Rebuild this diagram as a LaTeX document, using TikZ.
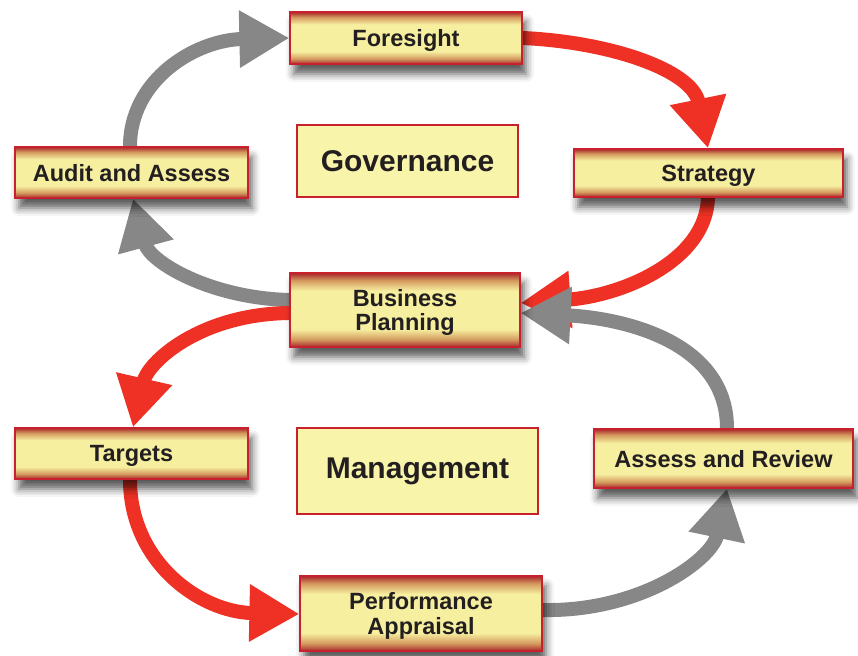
\documentclass[tikz,border=0pt]{standalone}
\usepackage{fontspec}
\setmainfont{Liberation Sans}
\usetikzlibrary{arrows.meta,shadows.blur}

\definecolor{boxedge}{HTML}{A8262A}
\definecolor{boxtan}{HTML}{D49A5E}
\definecolor{boxpale}{HTML}{F6EFA0}
\definecolor{plainfill}{HTML}{F8F4A9}
\definecolor{framered}{HTML}{C8202C}
\definecolor{flowred}{HTML}{EE3124}
\definecolor{flowgrey}{HTML}{878787}
\definecolor{inkdark}{HTML}{231F20}

\pgfdeclareverticalshading{boxshade}{100bp}{%
  color(0bp)=(boxedge); color(25bp)=(boxedge); color(30bp)=(boxtan);
  color(37bp)=(boxpale); color(63bp)=(boxpale); color(70bp)=(boxtan);
  color(75bp)=(boxedge); color(100bp)=(boxedge)}

\pgfdeclarelayer{arrows}
\pgfsetlayers{arrows,main}

\tikzset{
  stagebox/.style={draw=framered, line width=1.2pt, shading=boxshade,
    inner sep=0pt, align=center, text=inkdark,
    font=\fontsize{23.5}{24.5}\selectfont\bfseries,
    text depth=0pt,
    blur shadow={shadow xshift=4pt, shadow yshift=-10pt,
      shadow blur radius=8pt, shadow opacity=65}},
  areabox/.style={draw=framered, line width=1.2pt, fill=plainfill,
    inner sep=0pt, text=inkdark, font=\fontsize{30}{32}\selectfont\bfseries},
  flow/.style={line width=14pt,
    -{Triangle[length=50pt, width=54pt]}},
  redflow/.style={flow, draw=flowred},
  greyflow/.style={flow, draw=flowgrey},
}

\begin{document}
\begin{tikzpicture}[x=1pt, y=-1pt]
\useasboundingbox (0,0) rectangle (858,655);

% stage boxes
\node[stagebox, minimum width=232pt, minimum height=52pt] (fore) at (406,38) {Foresight};
\node[stagebox, minimum width=269pt, minimum height=48pt] (strat) at (708.5,173) {Strategy};
\node[stagebox, minimum width=233pt, minimum height=51pt] (audit) at (131.5,172.5) {Audit and Assess};
\node[stagebox, minimum width=230pt, minimum height=74pt] (plan) at (405,310) {Business\\Planning};
\node[stagebox, minimum width=233pt, minimum height=51pt] (targ) at (131.5,453.5) {Targets};
\node[stagebox, minimum width=259pt, minimum height=59pt] (review) at (723.5,458.5) {Assess and Review};
\node[stagebox, minimum width=242pt, minimum height=75pt] (perf) at (421,613.5) {Performance\\Appraisal};

% area labels
\node[areabox, minimum width=221pt, minimum height=72pt] (gov) at (407.5,161) {Governance};
\node[areabox, minimum width=241pt, minimum height=86pt] (mgmt) at (417.5,471) {Management};

% attachment points of the cycle arrows
\coordinate (stratT) at ([xshift=-0.5pt]strat.north);
\coordinate (stratB) at ([xshift=-0.5pt]strat.south);
\coordinate (planRa) at ([yshift=7pt]plan.east);
\coordinate (planRb) at ([yshift=-3pt]plan.east);
\coordinate (planLa) at ([yshift=10pt]plan.west);
\coordinate (planLb) at ([yshift=-3pt]plan.west);
\coordinate (auditT) at ([xshift=-1.5pt]audit.north);
\coordinate (auditB) at ([xshift=1.5pt]audit.south);
\coordinate (targT) at ([xshift=1.5pt]targ.north);
\coordinate (targB) at ([xshift=-1.5pt]targ.south);
\coordinate (perfL) at ([yshift=-0.5pt]perf.west);
\coordinate (perfR) at ([yshift=3.5pt]perf.east);
\coordinate (reviewT) at ([xshift=3.5pt]review.north);
\coordinate (reviewB) at ([xshift=3.5pt]review.south);

\begin{pgfonlayer}{arrows}
% governance cycle
\draw[greyflow] (auditT) .. controls (130,80) and (195,40) .. (fore.west);
\draw[redflow] (fore.east) .. controls (610,42) and (692,70) .. (stratT);
\draw[redflow] (stratB) .. controls (706,262) and (620,296) .. (planRa);
\draw[greyflow] (reviewT) .. controls (727,340) and (620,318) .. (planRb);
\draw[greyflow] (planLa) .. controls (210,298) and (150,262) .. (auditB);
% management cycle
\draw[redflow] (planLb) .. controls (200,314) and (148,362) .. (targT);
\draw[redflow] (targB) .. controls (130,562) and (200,612) .. (perfL);
\draw[greyflow] (perfR) .. controls (640,612) and (712,560) .. (reviewB);
\end{pgfonlayer}
\end{tikzpicture}
\end{document}
